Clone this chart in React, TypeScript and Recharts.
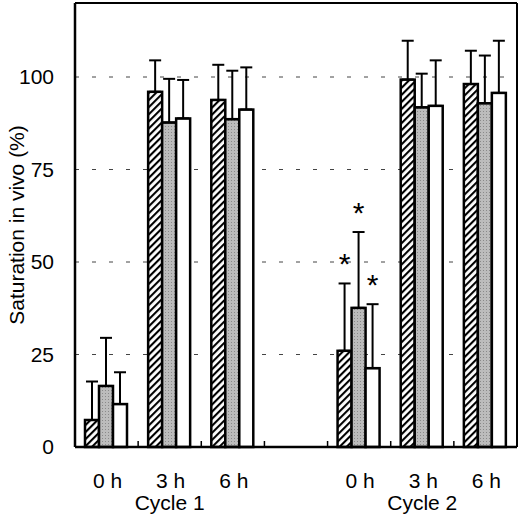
import { Bar, BarChart, CartesianGrid, ErrorBar, XAxis, YAxis } from "recharts"

const categories = ["0 h", "3 h", "6 h", "", "0 h", "3 h", "6 h"]
const cycleLabels = ["", "Cycle 1", "", "", "", "Cycle 2", ""]

// three groups per time point: hatched, grey, white (mean and SD, one-sided)
const hatched = [7.3, 96.0, 93.8, null, 26.0, 99.3, 98.1]
const hatchedErr = [10.4, 8.5, 9.5, null, 18.2, 10.5, 9.0]
const grey = [16.5, 87.7, 88.6, null, 37.6, 91.8, 92.9]
const greyErr = [13.0, 11.8, 13.1, null, 20.5, 9.1, 12.9]
const white = [11.6, 88.8, 91.2, null, 21.3, 92.2, 95.7]
const whiteErr = [8.6, 10.4, 11.4, null, 17.3, 12.3, 14.1]

// asterisks (significant difference) shown above these bars
const hatchedSig = [false, false, false, false, true, false, false]
const greySig = [false, false, false, false, true, false, false]
const whiteSig = [false, false, false, false, true, false, false]

const yTicks = [0, 25, 50, 75, 100]

const data = categories.map((name, i) => ({
  key: "c" + i,
  name,
  hatched: hatched[i],
  hatchedErr: hatchedErr[i],
  hatchedSig: hatchedSig[i],
  grey: grey[i],
  greyErr: greyErr[i],
  greySig: greySig[i],
  white: white[i],
  whiteErr: whiteErr[i],
  whiteSig: whiteSig[i],
}))

const font = "'Liberation Sans', Arial, Helvetica, sans-serif"

function CategoryTick(props: any) {
  const { x, y, payload, index } = props
  const i = index ?? payload.index
  const half = payload.offset || 31.5
  return (
    <g>
      {i > 0 && <line x1={x - half} x2={x - half} y1={y} y2={y - 6} stroke="#000" strokeWidth={1.5} />}
      <text x={x + 1} y={y + 41} textAnchor="middle" fontSize={21} fontFamily={font} fill="#000">
        {categories[i]}
      </text>
      {cycleLabels[i] && (
        <text x={x} y={y + 63} textAnchor="middle" fontSize={21} fontFamily={font} fill="#000">
          {cycleLabels[i]}
        </text>
      )}
    </g>
  )
}

// bar rect plus an asterisk above the error bar where flagged
const barShape = (field: string) => (props: any) => {
  const { x, y, width, height, fill, payload } = props
  const v = payload[field]
  if (v == null || !height) return <g />
  const err = payload[field + "Err"] ?? 0
  const top = y - (err * height) / v
  return (
    <g>
      <rect x={x} y={y} width={width} height={height} fill={fill} stroke="#000" strokeWidth={2.5} />
      {payload[field + "Sig"] && (
        <text x={x + width / 2} y={top - 9} textAnchor="middle" fontSize={30} fontFamily={font} fill="#000">
          *
        </text>
      )}
    </g>
  )
}

const errKey = (k: string) => (d: any) => (d[k] == null ? undefined : [0, d[k]])

export default function App() {
  return (
    <div style={{ position: "absolute", left: 0, top: 0, background: "#fff" }}>
      <svg width={0} height={0} style={{ position: "absolute" }}>
        <defs>
          <pattern id="hatch" width={5} height={5} patternUnits="userSpaceOnUse" patternTransform="rotate(45)">
            <rect width={5} height={5} fill="#fff" />
            <line x1={1} y1={0} x2={1} y2={5} stroke="#000" strokeWidth={2.2} />
          </pattern>
          <pattern id="dots" width={3} height={3} patternUnits="userSpaceOnUse">
            <rect width={3} height={3} fill="#bcbcbc" />
            <rect width={1} height={1} fill="#8a8a8a" />
          </pattern>
        </defs>
      </svg>
      <BarChart
        width={520}
        height={522}
        data={data}
        margin={{ top: 2, right: 2, bottom: 0, left: 0 }}
        barGap={0}
        barCategoryGap={10}
      >
        <CartesianGrid vertical={false} strokeDasharray="4 13" stroke="#444" />
        <XAxis
          dataKey="key"
          height={75}
          tick={<CategoryTick />}
          tickLine={false}
          tickSize={0}
          tickMargin={0}
          interval={0}
          axisLine={{ stroke: "#000", strokeWidth: 2.5 }}
        />
        <XAxis xAxisId="top" dataKey="key" orientation="top" height={1} tick={false} tickLine={false} axisLine={{ stroke: "#000", strokeWidth: 2 }} />
        <YAxis
          width={75}
          domain={[0, 120]}
          ticks={yTicks}
          tickLine={false}
          tickMargin={15}
          axisLine={{ stroke: "#000", strokeWidth: 2.5 }}
          tick={{ fontSize: 21, fill: "#000", fontFamily: font }}
          label={{
            content: (p: any) => {
              const vb = p.viewBox
              const cx = vb.x + 16
              const cy = vb.y + vb.height / 2
              return (
                <text x={cx} y={cy} transform={`rotate(-90 ${cx} ${cy})`} textAnchor="middle" dominantBaseline="central" fontSize={21} fontFamily={font} fill="#000">
                  Saturation in vivo (%)
                </text>
              )
            },
          }}
        />
        <YAxis yAxisId="right" orientation="right" width={1} domain={[0, 120]} tick={false} tickLine={false} axisLine={{ stroke: "#000", strokeWidth: 2 }} />
        <Bar dataKey="hatched" fill="url(#hatch)" isAnimationActive={false} shape={barShape("hatched")}>
          <ErrorBar dataKey={errKey("hatchedErr")} width={6} stroke="#000" strokeWidth={2} direction="y" />
        </Bar>
        <Bar dataKey="grey" fill="url(#dots)" isAnimationActive={false} shape={barShape("grey")}>
          <ErrorBar dataKey={errKey("greyErr")} width={6} stroke="#000" strokeWidth={2} direction="y" />
        </Bar>
        <Bar dataKey="white" fill="#fff" isAnimationActive={false} shape={barShape("white")}>
          <ErrorBar dataKey={errKey("whiteErr")} width={6} stroke="#000" strokeWidth={2} direction="y" />
        </Bar>
      </BarChart>
    </div>
  )
}
